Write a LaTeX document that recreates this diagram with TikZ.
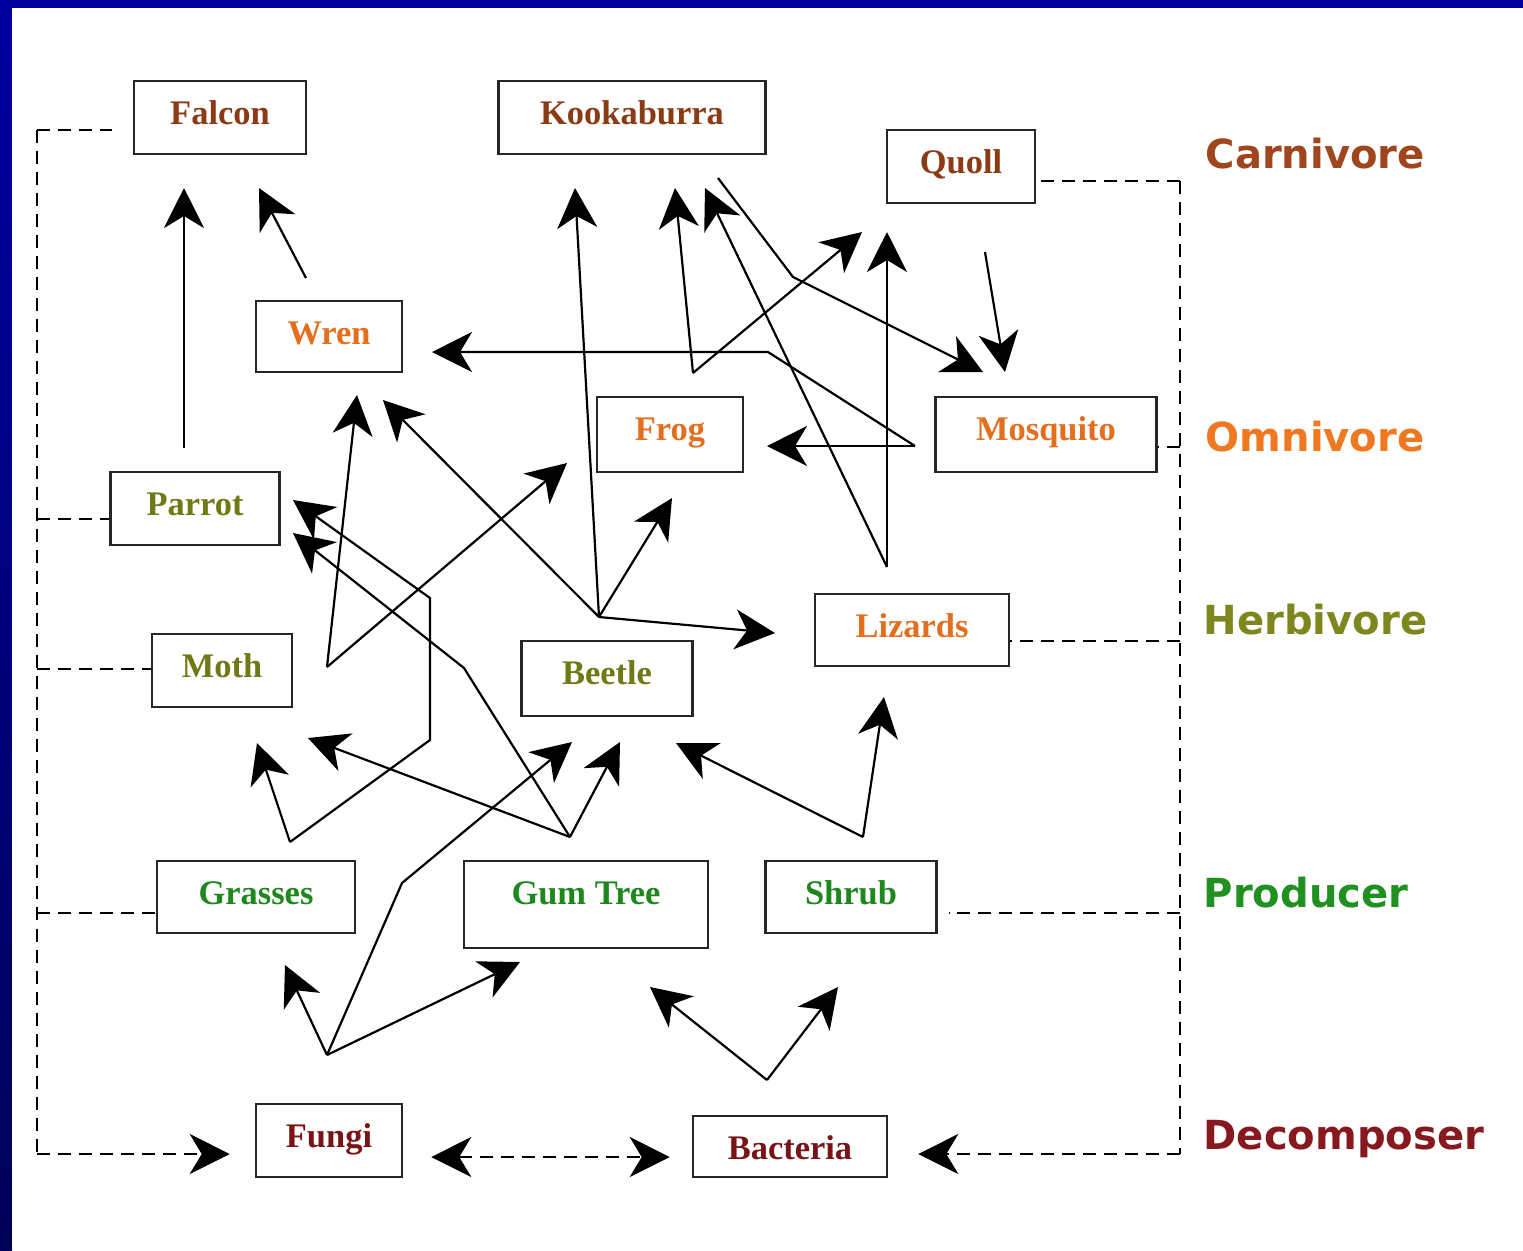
\documentclass[tikz,border=0pt]{standalone}
\usepackage{fontspec}
\setmainfont{Liberation Serif}
\newfontfamily\levelfont{DejaVu Sans}
\usetikzlibrary{arrows.meta}

\definecolor{frameblue}{RGB}{0,0,160}
\definecolor{carniT}{RGB}{140,58,20}
\definecolor{carniL}{RGB}{160,70,30}
\definecolor{omniT}{RGB}{228,110,30}
\definecolor{omniL}{RGB}{240,120,32}
\definecolor{herbiT}{RGB}{112,122,20}
\definecolor{herbiL}{RGB}{125,135,30}
\definecolor{prodT}{RGB}{30,135,30}
\definecolor{prodL}{RGB}{32,145,32}
\definecolor{decoT}{RGB}{120,20,22}
\definecolor{decoL}{RGB}{135,25,30}

\begin{document}
\begin{tikzpicture}[
    x=0.01cm, y=-0.01cm,
    font=\fontsize{9.8}{11}\selectfont\bfseries,
    >={Stealth[length=0.4cm,width=0.4cm,inset=0.12cm]},
    organism/.style={draw=black!85, line width=0.024cm, inner xsep=0pt, inner ysep=0pt,
        text height=0.43cm, text depth=0.30cm, anchor=base},
    carnivore/.style={organism, text=carniT},
    omnivore/.style={organism, text=omniT},
    herbivore/.style={organism, text=herbiT},
    producer/.style={organism, text=prodT},
    decomposer/.style={organism, text=decoT},
    level/.style={font=\levelfont\fontsize{11.4}{13}\selectfont\bfseries, inner sep=0pt, anchor=base west},
    eats/.style={->, line width=0.022cm},
    rail/.style={dash pattern=on 0.13cm off 0.08cm, line width=0.022cm},
 ]
    % frame
    \useasboundingbox (0,0) rectangle (1523,1250);
    \fill[frameblue] (0,0) rectangle (1523,8);
    \shade[top color=frameblue, bottom color=frameblue!55!black] (0,0) rectangle (12,1250);
    \fill[white] (12,8) rectangle (1523,1250);

    % organisms
    \node[carnivore, minimum width=1.72cm] (C1) at (220,124) {Falcon};
    \node[carnivore, minimum width=2.67cm] (C2) at (632,124) {Kookaburra};
    \node[carnivore, minimum width=1.48cm] (C3) at (961,173) {Quoll};
    \node[omnivore, minimum width=1.46cm, text depth=0.28cm] (O1) at (329,344) {Wren};
    \node[omnivore, minimum width=1.46cm, text depth=0.32cm] (O2) at (670,440) {Frog};
    \node[omnivore, minimum width=2.21cm, text depth=0.32cm] (O3) at (1046,440) {Mosquito};
    \node[omnivore, minimum width=1.94cm, text depth=0.29cm] (O4) at (912,637) {Lizards};
    \node[herbivore, minimum width=1.69cm] (H1) at (195,515) {Parrot};
    \node[herbivore, minimum width=1.40cm] (H2) at (222,677) {Moth};
    \node[herbivore, minimum width=1.71cm, text depth=0.32cm] (H3) at (607,684) {Beetle};
    \node[producer, minimum width=1.98cm, text depth=0.29cm] (P1) at (256,904) {Grasses};
    \node[producer, minimum width=2.44cm, text depth=0.44cm] (P2) at (586,904) {Gum Tree};
    \node[producer, minimum width=1.71cm, text depth=0.29cm] (P3) at (851,904) {Shrub};
    \node[decomposer, minimum width=1.46cm] (D1) at (329,1147) {Fungi};
    \node[decomposer, minimum width=1.94cm, text depth=0.18cm] (D2) at (790,1159) {Bacteria};

    % levels
    \node[level, text=carniL] (L1) at (1205,168) {Carnivore};
    \node[level, text=omniL] (L2) at (1205,451) {Omnivore};
    \node[level, text=herbiL] (L3) at (1203,634) {Herbivore};
    \node[level, text=prodL] (L4) at (1203,907) {Producer};
    \node[level, text=decoL] (L5) at (1203,1149) {Decomposer};

    % rails
    \coordinate (LT) at (37,130);
    \coordinate (LP) at (37,519);
    \coordinate (LM) at (37,669);
    \coordinate (LG) at (37,913);
    \coordinate (LB) at (37,1154);
    \coordinate (RT) at (1180,181);
    \coordinate (RM) at (1180,447);
    \coordinate (RL) at (1180,641);
    \coordinate (RS) at (1180,913);
    \coordinate (RB) at (1180,1154);
    \coordinate (DB) at (0,1157);
    \draw[rail] (LT) -- (LB);
    \draw[rail, shorten >=0.21cm] (LT) -- (LT -| C1.west);
    \draw[rail] (LP) -- (LP -| H1.west);
    \draw[rail] (LM) -- (LM -| H2.west);
    \draw[rail] (LG) -- (LG -| P1.west);
    \draw[rail, ->, shorten >=0.25cm] (LB) -- (LB -| D1.west);
    \draw[rail] (RT) -- (RB);
    \draw[rail] (RT) -- (RT -| C3.east);
    \draw[rail] (RM) -- (RM -| O3.east);
    \draw[rail] (RL) -- (RL -| O4.east);
    \draw[rail, shorten >=0.11cm] (RS) -- (RS -| P3.east);
    \draw[rail, ->, shorten >=0.3cm] (RB) -- (RB -| D2.east);
    \draw[rail, <->, shorten <=0.28cm, shorten >=0.22cm] (DB -| D1.east) -- (DB -| D2.west);

    % feeding points
    \coordinate (H1s) at (184,448);
    \coordinate (O1s) at (306,278);
    \coordinate (H3s) at (599,617);
    \coordinate (H2s) at (327,667);
    \coordinate (O2s) at (693,373);
    \coordinate (O4s) at (887,567);
    \coordinate (C2s) at (718,178);
    \coordinate (C3s) at (985,252);
    \coordinate (O3s) at (915,446);
    \coordinate (P3s) at (863,837);
    \coordinate (P2s) at (570,837);
    \coordinate (P1s) at (290,842);
    \coordinate (D1s) at (327,1055);
    \coordinate (D2s) at (767,1080);
    % bends
    \coordinate (K1) at (793,277);
    \coordinate (K2) at (768,352);
    \coordinate (K3) at (464,668);
    \coordinate (K4) at (430,740);
    \coordinate (K5) at (430,598);
    \coordinate (K6) at (402,883);
    % arrow tips
    \coordinate (C1t1) at (184,188);
    \coordinate (C1t2) at (259,188);
    \coordinate (C2t1) at (575,188);
    \coordinate (C2t2) at (675,188);
    \coordinate (C2t3) at (705,188);
    \coordinate (C3t1) at (862,232);
    \coordinate (C3t2) at (887,232);
    \coordinate (O1t1) at (357,395);
    \coordinate (O1t2) at (383,400);
    \coordinate (O1t3) at (432,352);
    \coordinate (O2t1) at (567,463);
    \coordinate (O2t2) at (672,498);
    \coordinate (O2t3) at (767,446);
    \coordinate (O3t1) at (983,372);
    \coordinate (O3t2) at (1005,372);
    \coordinate (O4t1) at (775,633);
    \coordinate (O4t2) at (884,697);
    \coordinate (H1t1) at (293,500);
    \coordinate (H1t2) at (293,533);
    \coordinate (H2t1) at (257,743);
    \coordinate (H2t2) at (308,738);
    \coordinate (H3t1) at (572,742);
    \coordinate (H3t2) at (620,742);
    \coordinate (H3t3) at (676,743);
    \coordinate (P1t1) at (285,965);
    \coordinate (P2t1) at (520,962);
    \coordinate (P2t2) at (650,987);
    \coordinate (P3t1) at (838,987);

    % who eats whom
    \draw[eats] (H1s) -- (C1t1);
    \draw[eats] (O1s) -- (C1t2);
    \draw[eats] (H3s) -- (C2t1);
    \draw[eats] (H3s) -- (O2t2);
    \draw[eats] (H3s) -- (O4t1);
    \draw[eats] (H3s) -- (O1t2);
    \draw[eats] (H2s) -- (O1t1);
    \draw[eats] (H2s) -- (O2t1);
    \draw[eats] (O2s) -- (C2t2);
    \draw[eats] (O2s) -- (C3t1);
    \draw[eats] (O4s) -- (C2t3);
    \draw[eats] (O4s) -- (C3t2);
    \draw[eats] (C2s) -- (K1) -- (O3t1);
    \draw[eats] (C3s) -- (O3t2);
    \draw[eats] (O3s) -- (K2) -- (O1t3);
    \draw[eats] (O3s) -- (O2t3);
    \draw[eats] (P3s) -- (H3t3);
    \draw[eats] (P3s) -- (O4t2);
    \draw[eats] (P2s) -- (H3t2);
    \draw[eats] (P2s) -- (K3) -- (H1t2);
    \draw[eats] (P2s) -- (H2t2);
    \draw[eats] (P1s) -- (H2t1);
    \draw[eats] (P1s) -- (K4) -- (K5) -- (H1t1);
    \draw[eats] (D1s) -- (P1t1);
    \draw[eats] (D1s) -- (P2t1);
    \draw[eats] (D1s) -- (K6) -- (H3t1);
    \draw[eats] (D2s) -- (P2t2);
    \draw[eats] (D2s) -- (P3t1);

\end{tikzpicture}
\end{document}
